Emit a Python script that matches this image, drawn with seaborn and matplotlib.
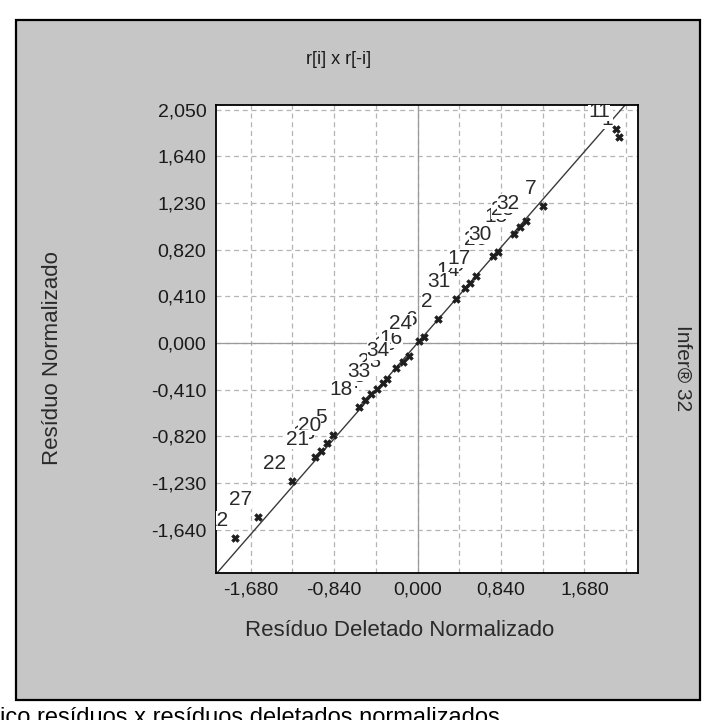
import matplotlib
matplotlib.use("Agg")
import matplotlib.pyplot as plt
import matplotlib.patches as mpatches
from matplotlib.ticker import FixedLocator, FuncFormatter
import pandas as pd
import seaborn as sns

obs = [12, 27, 22, 21, 13, 20, 5, 18, 4, 8, 33, 3, 23, 34, 10, 16,
       24, 6, 2, 31, 14, 9, 17, 26, 30, 15, 25, 32, 7, 11, 1]
r_del = [-1.84, -1.61, -1.26, -1.03, -0.97, -0.91, -0.85, -0.59, -0.53, -0.47,
         -0.41, -0.35, -0.31, -0.22, -0.15, -0.09, 0.01, 0.06, 0.21, 0.39,
         0.48, 0.53, 0.59, 0.76, 0.81, 0.97, 1.03, 1.09, 1.26, 2.00, 2.03]
r_norm = [-1.71, -1.53, -1.21, -1.00, -0.95, -0.88, -0.81, -0.56, -0.50, -0.45,
          -0.40, -0.35, -0.32, -0.22, -0.17, -0.11, 0.02, 0.05, 0.21, 0.39,
          0.48, 0.53, 0.59, 0.76, 0.80, 0.96, 1.02, 1.07, 1.20, 1.88, 1.81]

x_ticks = [-1.68, -0.84, 0.0, 0.84, 1.68]
x_grid = [-1.68, -1.26, -0.84, -0.42, 0.0, 0.42, 0.84, 1.26, 1.68, 2.10]
y_ticks = [-1.64, -1.23, -0.82, -0.41, 0.0, 0.41, 0.82, 1.23, 1.64, 2.05]

df = pd.DataFrame({"obs": obs, "r_del": r_del, "r_norm": r_norm})

sns.set_style("white")
plt.rcParams["font.family"] = ["Liberation Sans", "DejaVu Sans"]

W, H = 709, 720
fig = plt.figure(figsize=(W / 100, H / 100), dpi=100, facecolor="white")

# grey window panel, kept behind the axes
panel = mpatches.Rectangle((16 / W, 1 - 700 / H), (700 - 16) / W, (700 - 20) / H,
                           transform=fig.transFigure, facecolor="#c6c6c6",
                           edgecolor="black", linewidth=1.6, zorder=-5)
fig.patches.append(panel)

ax = fig.add_axes([216 / W, 1 - 573 / H, (638 - 216) / W, (573 - 105) / H])
ax.set_facecolor("white")
ax.set_xlim(-2.03, 2.22)
ax.set_ylim(-2.02, 2.09)

fmt = FuncFormatter(lambda v, p: f"{v:.3f}".replace(".", ",").replace("-0,000", "0,000"))
ax.xaxis.set_major_locator(FixedLocator(x_ticks))
ax.xaxis.set_minor_locator(FixedLocator([v for v in x_grid if v not in x_ticks]))
ax.yaxis.set_major_locator(FixedLocator(y_ticks))
ax.xaxis.set_major_formatter(fmt)
ax.yaxis.set_major_formatter(fmt)

ax.grid(True, which="both", axis="x", color="#b4b4b4", linestyle=(0, (4, 3)), linewidth=0.9)
ax.grid(True, which="major", axis="y", color="#b4b4b4", linestyle=(0, (4, 3)), linewidth=0.9)
ax.set_axisbelow(True)
ax.axhline(0, color="#9a9a9a", linewidth=0.9, zorder=1)
ax.axvline(0, color="#9a9a9a", linewidth=0.9, zorder=1)

ax.tick_params(axis="both", which="major", direction="out", length=4.5, width=1,
               color="black", labelsize=14, labelcolor="#1a1a1a", pad=2.5)
ax.tick_params(axis="x", which="minor", length=0)
ax.tick_params(axis="x", which="major", pad=1.5)
for s in ax.spines.values():
    s.set_color("black")
    s.set_linewidth(1.3)

# identity reference line
ax.axline((0, 0), slope=1, color="#3a3a3a", linewidth=1.0, zorder=2)

# observation labels, drawn in id order so later ids cover earlier ones
for _, row in df.sort_values("obs").iterrows():
    ax.annotate(str(int(row["obs"])), (row["r_del"], row["r_norm"]),
                xytext=(-4.3, 8.6), textcoords="offset points",
                ha="right", va="baseline", fontsize=15, color="#2a2a2a",
                bbox=dict(boxstyle="square,pad=0", fc="white", ec="none"),
                clip_on=True, annotation_clip=False, zorder=3)

sns.scatterplot(data=df, x="r_del", y="r_norm", marker="X", s=30,
                color="#1e1e1e", edgecolor="#1e1e1e", linewidth=0.5, ax=ax, zorder=4)
ax.set_xlabel("")
ax.set_ylabel("")

fig.text(339 / W, 1 - 60 / H, "r[i] x r[-i]", ha="center", va="center",
         fontsize=13, color="#1a1a1a")
fig.text(400 / W, 1 - 631 / H, "Resíduo Deletado Normalizado", ha="center", va="center",
         fontsize=16, color="#2a2a2a")
fig.text(53 / W, 1 - 358 / H, "Resíduo Normalizado", ha="center", va="center",
         rotation=90, fontsize=16, color="#2a2a2a")
fig.text(683 / W, 1 - 368 / H, "Infer® 32", ha="center", va="center",
         rotation=-90, fontsize=15, color="#2a2a2a")
# caption of the scanned page, cut by the bottom edge as in the scan
fig.text(0 / W, 1 - 707 / H, "ico resíduos x resíduos deletados normalizados",
         ha="left", va="top", fontsize=17, color="black")

fig.savefig("out.png", dpi=100, facecolor="white")
